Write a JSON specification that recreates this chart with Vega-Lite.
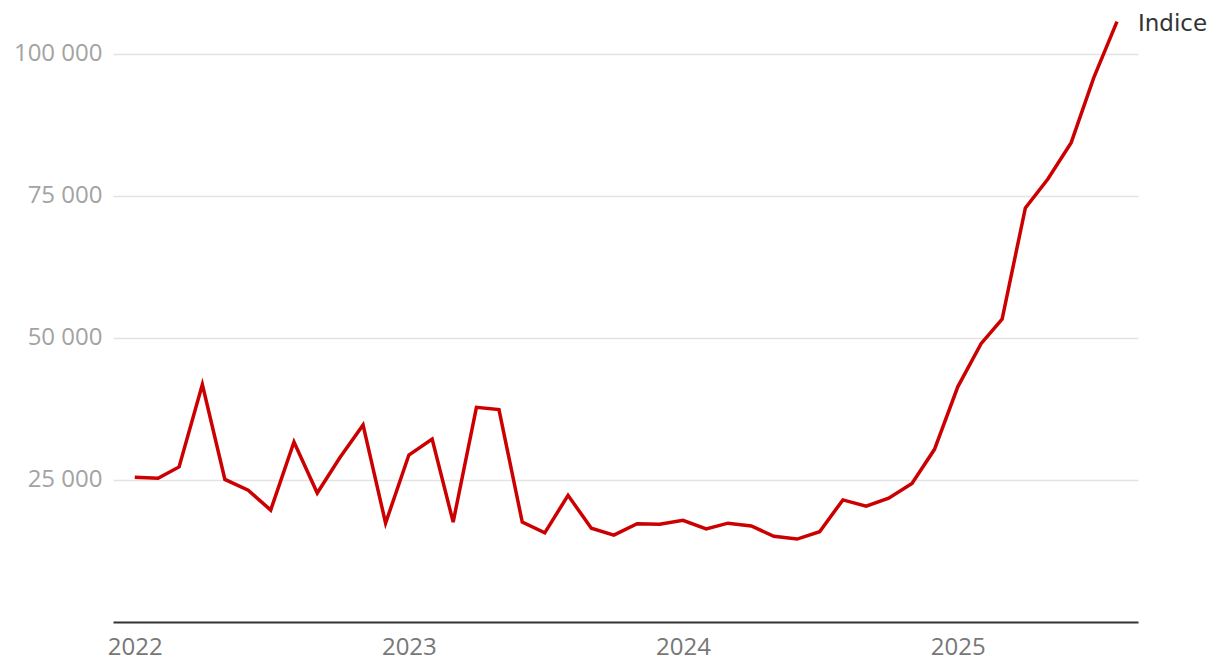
{
  "$schema": "https://vega.github.io/schema/vega-lite/v6.json",
  "width": 1025,
  "height": 622,
  "autosize": {"type": "none"},
  "padding": {"left": 113, "top": 0, "right": 82, "bottom": 50},
  "background": "white",
  "config": {"view": {"stroke": null}, "font": "Open Sans"},
  "data": {
    "values": [
      {"date": "2022-01-01", "value": 25500},
      {"date": "2022-02-01", "value": 25300},
      {"date": "2022-03-01", "value": 27300},
      {"date": "2022-04-01", "value": 41800},
      {"date": "2022-05-01", "value": 25100},
      {"date": "2022-06-01", "value": 23200},
      {"date": "2022-07-01", "value": 19700},
      {"date": "2022-08-01", "value": 31700},
      {"date": "2022-09-01", "value": 22700},
      {"date": "2022-10-01", "value": 28900},
      {"date": "2022-11-01", "value": 34700},
      {"date": "2022-12-01", "value": 17400},
      {"date": "2023-01-01", "value": 29400},
      {"date": "2023-02-01", "value": 32200},
      {"date": "2023-03-01", "value": 17600},
      {"date": "2023-04-01", "value": 37800},
      {"date": "2023-05-01", "value": 37400},
      {"date": "2023-06-01", "value": 17600},
      {"date": "2023-07-01", "value": 15700},
      {"date": "2023-08-01", "value": 22300},
      {"date": "2023-09-01", "value": 16500},
      {"date": "2023-10-01", "value": 15300},
      {"date": "2023-11-01", "value": 17300},
      {"date": "2023-12-01", "value": 17200},
      {"date": "2024-01-01", "value": 17900},
      {"date": "2024-02-01", "value": 16400},
      {"date": "2024-03-01", "value": 17400},
      {"date": "2024-04-01", "value": 16900},
      {"date": "2024-05-01", "value": 15100},
      {"date": "2024-06-01", "value": 14600},
      {"date": "2024-07-01", "value": 15900},
      {"date": "2024-08-01", "value": 21500},
      {"date": "2024-09-01", "value": 20400},
      {"date": "2024-10-01", "value": 21800},
      {"date": "2024-11-01", "value": 24400},
      {"date": "2024-12-01", "value": 30400},
      {"date": "2025-01-01", "value": 41400},
      {"date": "2025-02-01", "value": 49000},
      {"date": "2025-03-01", "value": 53300},
      {"date": "2025-04-01", "value": 72900},
      {"date": "2025-05-01", "value": 78000},
      {"date": "2025-06-01", "value": 84400},
      {"date": "2025-07-01", "value": 95800},
      {"date": "2025-08-01", "value": 105700}
    ]
  },
  "encoding": {
    "x": {
      "field": "date",
      "type": "temporal",
      "scale": {
        "type": "utc",
        "domain": [
          {"year": 2021, "month": 12, "date": 3, "utc": true},
          {"year": 2025, "month": 8, "date": 29, "utc": true}
        ]
      },
      "axis": {
        "title": null,
        "format": "%Y",
        "tickCount": {"interval": "year", "step": 1},
        "grid": false,
        "ticks": false,
        "domainColor": "#333333",
        "domainWidth": 2,
        "labelColor": "#777777",
        "labelFontSize": 24,
        "labelPadding": 13
      }
    },
    "y": {
      "field": "value",
      "type": "quantitative",
      "scale": {"domain": [0, 109507], "nice": false},
      "axis": {
        "title": null,
        "values": [25000, 50000, 75000, 100000],
        "domain": false,
        "ticks": false,
        "gridColor": "#e3e3e3",
        "gridWidth": 1.5,
        "labelColor": "#a3a3a3",
        "labelFontSize": 24,
        "labelPadding": 11,
        "labelExpr": "replace(format(datum.value, ','), ',', ' ')"
      }
    }
  },
  "layer": [
    {
      "mark": {"type": "line", "color": "#cc0000", "strokeWidth": 3.5, "strokeJoin": "miter"}
    },
    {
      "transform": [
        {"joinaggregate": [{"op": "max", "field": "value", "as": "maxv"}]},
        {"filter": "datum.value == datum.maxv"}
      ],
      "mark": {
        "type": "text",
        "align": "left",
        "baseline": "middle",
        "dx": 21,
        "dy": 2,
        "fontSize": 23,
        "font": "DejaVu Sans",
        "color": "#333333"
      },
      "encoding": {"text": {"value": "Indice"}}
    }
  ]
}
